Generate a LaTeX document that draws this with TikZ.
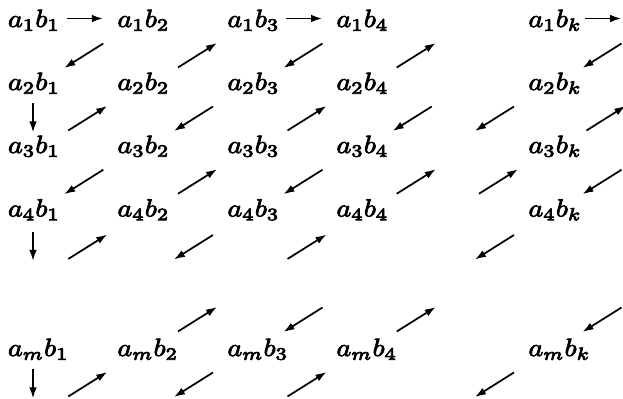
\documentclass[tikz,border=0pt]{standalone}
\usepackage{graphicx}
\usetikzlibrary{calc,arrows.meta}
\tikzset{
  lbl/.style={anchor=base west, inner sep=0pt, font=\fontsize{10}{12}\selectfont},
  arr/.style={-{Latex[length=4.4pt,width=3pt]}, line width=0.7pt},
}
\newcommand\abnode[2]{\special{pdf:literal direct q 2 Tr 0.3 w}\scalebox{1.12}[1]{$a_{#1}b_{#2}$}\special{pdf:literal direct Q}}
% down-left diagonal: from upper-right cell #1 to lower-left cell #2
\newcommand\arrDn[2]{\draw[arr] ($(#1)!0.5!(#2)+(17.5,-12)$) -- ($(#1)!0.5!(#2)+(-21.5,12.5)$);}
% up-right diagonal: from lower-left cell #1 to upper-right cell #2
\newcommand\arrUp[2]{\draw[arr] ($(#1)!0.5!(#2)+(-17.5,12)$) -- ($(#1)!0.5!(#2)+(21.5,-12.5)$);}
\newcommand\arrV[2]{\draw[arr] ($(#1)!0.5!(#2)+(2,-15)$) -- ($(#1)!0.5!(#2)+(2,14)$);}
\newcommand\arrH[2]{\draw[arr] ($(#1)!0.5!(#2)+(-18.75,-5.5)$) -- ($(#1)!0.5!(#2)+(17.25,-5.5)$);}
\begin{document}
\begin{tikzpicture}[x=0.4pt,y=-0.4pt]
\useasboundingbox (0,0) rectangle (623,399);
% cell reference points and labels
\foreach \r/\yy/\rs in {1/24/1,2/87/2,3/150/3,4/213.5/4,M/353/m}{
  \foreach \c/\xx/\cs in {1/31/1,2/140.5/2,3/250.5/3,4/359.5/4,K/551.5/k}{
    \coordinate (p\r\c) at (\xx,\yy);
    \node[lbl] (n\r\c) at ($(p\r\c)+(-23.5,3)$) {\abnode{\rs}{\cs}};
  }
}
% virtual cells (free ends)
\coordinate (p15) at (469,24);
\coordinate (p25) at (469,87);
\coordinate (p35) at (469,150);
\coordinate (p1L) at (656.5,24);
\coordinate (p2L) at (656.5,87);
\coordinate (p3L) at (656.5,150);
\coordinate (p3J) at (441.5,150);
\coordinate (p4J) at (441.5,213.5);
\coordinate (p5J) at (441.5,280.5);
\coordinate (pPJ) at (441.5,416);
\coordinate (p51) at (31,280.5);
\coordinate (p52) at (140.5,280.5);
\coordinate (p53) at (250.5,280.5);
\coordinate (pN3) at (250.5,286);
\coordinate (pN4) at (359.5,286);
\coordinate (pN5) at (469,286);
\coordinate (pNL) at (656.5,286);
\coordinate (pP1) at (31,416);
\coordinate (pP2) at (140.5,416);
\coordinate (pP3) at (250.5,416);
% horizontal
\arrH{p11}{p12}
\arrH{p13}{p14}
\arrH{p1K}{p1L}
% vertical
\arrV{p21}{p31}
\arrV{p41}{p51}
\arrV{pM1}{pP1}
% rows 1-2
\arrDn{p12}{p21}
\arrUp{p22}{p13}
\arrDn{p14}{p23}
\arrUp{p24}{p15}
\arrDn{p1L}{p2K}
% rows 2-3
\arrUp{p31}{p22}
\arrDn{p23}{p32}
\arrUp{p33}{p24}
\arrDn{p25}{p34}
\arrDn{p2K}{p3J}
\arrUp{p3K}{p2L}
% rows 3-4
\arrDn{p32}{p41}
\arrUp{p42}{p33}
\arrDn{p34}{p43}
\arrUp{p44}{p35}
\arrUp{p4J}{p3K}
\arrDn{p3L}{p4K}
% below row 4
\arrUp{p51}{p42}
\arrDn{p43}{p52}
\arrUp{p53}{p44}
\arrDn{p4K}{p5J}
% above row m
\arrUp{pM2}{pN3}
\arrDn{pN4}{pM3}
\arrUp{pM4}{pN5}
\arrDn{pNL}{pMK}
% below row m
\arrUp{pP1}{pM2}
\arrDn{pM3}{pP2}
\arrUp{pP3}{pM4}
\arrDn{pMK}{pPJ}
\end{tikzpicture}
\end{document}
